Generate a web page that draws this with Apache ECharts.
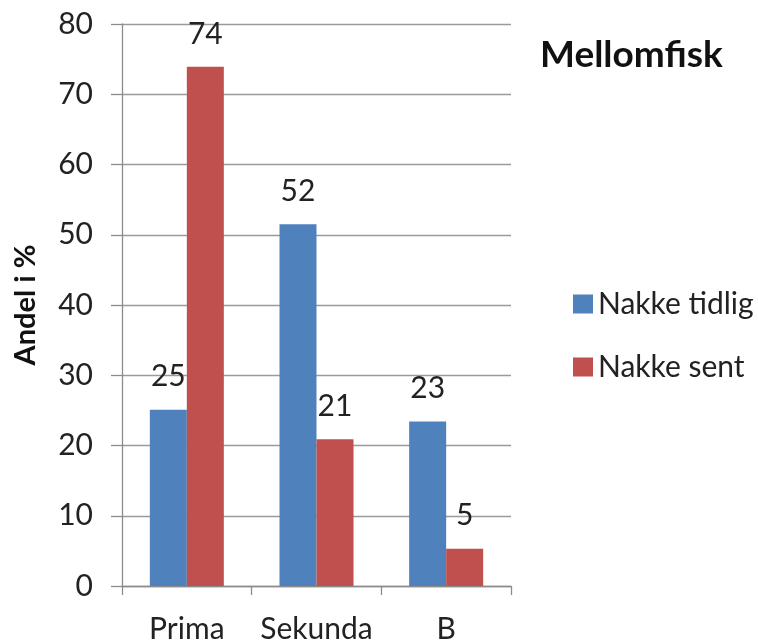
<!DOCTYPE html>
<html>
<head>
<meta charset="utf-8">
<script src="https://cdn.jsdelivr.net/npm/echarts@6/dist/echarts.min.js"></script>
<style>html,body{margin:0;padding:0;background:#fff;}#c{width:758px;height:644px;}</style>
</head>
<body>
<div id="c"></div>
<script>
const categories = ['Prima', 'Sekunda', 'B'];
const seriesNames = ['Nakke tidlig', 'Nakke sent'];
const tidlig = [25.1, 51.5, 23.4];
const sent = [73.9, 20.9, 5.3];
const titleText = 'Mellomfisk';
const yAxisName = 'Andel i %';

const FONT = 'Lato';
const chart = echarts.init(document.getElementById('c'), null, {renderer: 'canvas'});
const labelCfg = {
  show: true, position: 'top', distance: 18,
  fontFamily: FONT, fontSize: 30, color: '#222',
  formatter: p => Math.round(p.value)
};
chart.setOption({
  animation: false,
  backgroundColor: '#fff',
  title: {
    text: titleText, left: 535, top: 32,
    textStyle: {fontFamily: FONT, fontWeight: 'bold', fontSize: 37, color: '#111'}
  },
  legend: {
    orient: 'vertical', left: 568, top: 284,
    itemWidth: 20, itemHeight: 19, itemGap: 33, icon: 'rect',
    textStyle: {fontFamily: FONT, fontSize: 30, color: '#222', lineHeight: 30}
  },
  grid: {left: 122, top: 24, right: 247, bottom: 53, containLabel: false},
  xAxis: {
    type: 'category', data: categories,
    axisLine: {lineStyle: {color: '#8c8c8c', width: 1.3}},
    axisTick: {show: true, length: 9, lineStyle: {color: '#8c8c8c', width: 1.3}},
    axisLabel: {fontFamily: FONT, fontSize: 30, color: '#222', margin: 28, interval: 0, hideOverlap: false}
  },
  yAxis: {
    type: 'value', min: 0, max: 80, interval: 10,
    name: yAxisName, nameLocation: 'middle', nameGap: 82, nameRotate: 90,
    nameTextStyle: {fontFamily: FONT, fontWeight: 'bold', fontSize: 29, color: '#111'},
    axisLine: {show: true, lineStyle: {color: '#8c8c8c', width: 1.3}},
    axisTick: {show: true, length: 11, lineStyle: {color: '#8c8c8c', width: 1.3}},
    splitLine: {lineStyle: {color: '#9a9a9a', width: 1.3}},
    axisLabel: {fontFamily: FONT, fontSize: 30, color: '#222', margin: 29}
  },
  series: [
    {name: seriesNames[0], type: 'bar', data: tidlig, barWidth: 37, barGap: '0%',
     itemStyle: {color: '#4F81BD'}, label: labelCfg},
    {name: seriesNames[1], type: 'bar', data: sent, barWidth: 37, barGap: '0%',
     itemStyle: {color: '#C0504D'}, label: labelCfg}
  ]
});
</script>
</body>
</html>
